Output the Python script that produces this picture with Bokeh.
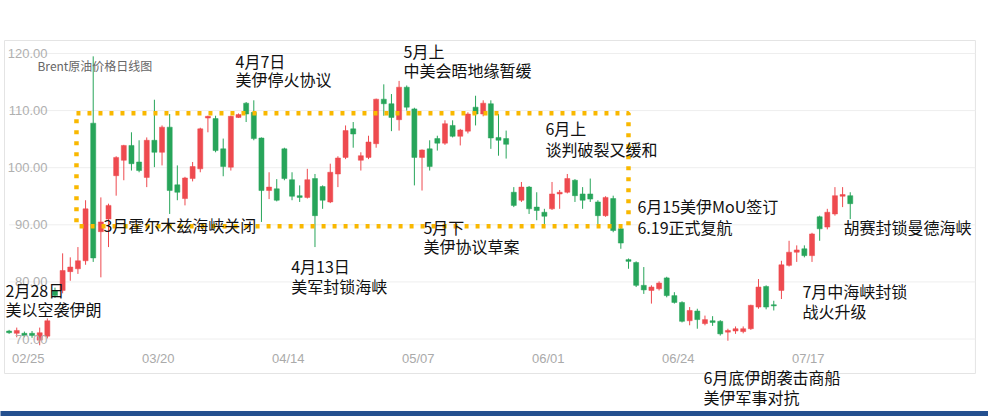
import pandas as pd
from bokeh.plotting import figure
from bokeh.models import Range1d, FixedTicker, Label, ColumnDataSource, NumeralTickFormatter
from bokeh.embed import file_html
from bokeh.resources import INLINE

# ---------------- data ----------------
opens = [71.4, 71.0, 71.0, 71.0, 69.8, 70.5, 78.5, 78.5, 81.8, 82.3,
         83.7, 107.8, 88.8, 91.0, 98.6, 101.3, 103.9, 101.0, 98.3, 104.8,
         102.7, 107.1, 97.0, 94.6, 98.1, 99.8, 108.7, 108.6, 103.3, 100.1,
         108.8, 111.3, 109.7, 105.2, 96.0, 96.3, 103.3, 97.9, 95.1, 94.8,
         98.1, 96.7, 94.0, 98.9, 101.8, 106.8, 101.3, 101.8, 104.2, 112.0,
         111.2, 108.4, 114.1, 110.3, 101.8, 103.3, 105.1, 104.3, 107.4, 105.5,
         106.4, 110.6, 109.4, 111.2, 105.3, 105.1, 95.7, 94.3, 96.6, 93.1,
         92.2, 92.8, 95.4, 95.7, 97.8, 95.4, 95.4, 94.0, 91.6, 94.6,
         89.3, 83.9, 83.4, 79.4, 78.5, 78.8, 80.7, 77.6, 76.4, 73.2,
         74.9, 72.7, 73.2, 73.1, 71.2, 71.4, 71.3, 71.8, 75.6, 79.2,
         76.0, 78.5, 82.9, 85.2, 85.8, 84.6, 91.4, 89.6, 91.9, 95.0,
         95.1]
highs = [71.6, 72.0, 71.3, 71.4, 72.0, 73.6, 79.0, 85.0, 84.3, 86.1,
         94.3, 119.5, 94.8, 93.7, 102.0, 104.0, 106.2, 104.8, 105.3, 111.9,
         107.4, 109.4, 100.4, 98.4, 101.0, 107.0, 109.1, 109.1, 105.1, 109.1,
         109.5, 111.5, 111.8, 105.3, 99.2, 98.0, 103.5, 99.2, 96.9, 99.8,
         98.9, 96.9, 100.7, 102.0, 107.4, 108.0, 102.7, 105.6, 112.1, 114.6,
         112.9, 115.2, 114.4, 110.5, 103.2, 104.8, 105.6, 108.3, 108.3, 106.8,
         109.7, 112.6, 111.8, 111.8, 109.4, 106.5, 96.6, 97.5, 96.8, 95.7,
         92.8, 97.5, 96.1, 98.9, 98.0, 96.6, 98.1, 94.3, 95.0, 95.1,
         89.6, 84.1, 83.6, 82.6, 79.4, 80.1, 80.9, 78.2, 76.6, 75.6,
         75.3, 74.1, 74.0, 73.3, 71.8, 72.2, 72.2, 76.0, 80.5, 79.4,
         76.7, 83.7, 87.2, 86.4, 86.4, 88.6, 91.6, 92.8, 96.6, 96.6,
         95.7]
lows = [70.9, 70.3, 70.3, 70.2, 68.9, 70.1, 77.2, 78.0, 80.2, 81.4,
        83.0, 83.5, 80.8, 86.1, 95.1, 97.8, 99.5, 99.2, 96.6, 100.1,
        100.4, 91.9, 94.3, 93.4, 97.6, 99.2, 106.2, 102.7, 98.5, 99.5,
        108.7, 108.0, 104.8, 90.5, 94.5, 94.1, 97.8, 94.3, 94.0, 94.6,
        86.1, 92.8, 93.8, 96.6, 101.5, 103.5, 99.5, 101.5, 103.5, 109.1,
        106.4, 106.5, 110.0, 96.9, 96.0, 99.5, 103.0, 104.0, 105.3, 103.9,
        106.0, 107.4, 109.0, 103.3, 102.1, 101.6, 93.1, 94.0, 91.9, 90.8,
        89.9, 92.6, 92.8, 95.5, 94.0, 92.8, 94.0, 89.9, 91.4, 88.7,
        85.8, 82.3, 79.1, 77.9, 76.2, 78.5, 77.3, 76.2, 72.9, 72.4,
        71.8, 72.4, 72.3, 70.6, 69.7, 70.9, 71.0, 71.6, 75.3, 75.2,
        75.0, 77.0, 82.7, 83.5, 84.3, 83.5, 87.2, 89.2, 91.6, 93.1,
        91.0]
closes = [71.1, 71.5, 70.6, 70.6, 71.1, 73.2, 77.6, 82.0, 82.6, 83.7,
          92.8, 84.2, 90.5, 93.4, 101.8, 103.9, 100.7, 99.5, 104.8, 102.7,
          107.1, 96.0, 95.7, 98.2, 100.2, 106.8, 109.0, 103.0, 100.2, 109.0,
          109.3, 109.4, 105.1, 96.0, 96.6, 94.3, 98.1, 95.0, 94.8, 97.9,
          91.6, 94.3, 99.2, 101.7, 106.5, 105.9, 102.1, 104.5, 112.0, 111.2,
          108.8, 114.1, 110.6, 101.8, 103.1, 100.2, 104.3, 107.7, 105.5, 106.6,
          109.4, 109.4, 111.3, 105.2, 104.8, 104.1, 93.4, 96.6, 92.8, 92.5,
          91.5, 95.4, 95.7, 98.1, 95.1, 94.3, 94.5, 91.6, 94.8, 89.0,
          86.8, 83.6, 79.4, 78.6, 79.1, 79.8, 77.6, 76.4, 73.1, 75.0,
          73.4, 73.4, 72.9, 70.9, 71.5, 71.8, 71.8, 75.9, 79.1, 75.6,
          75.8, 83.0, 85.2, 85.6, 84.6, 88.4, 89.3, 92.2, 95.1, 95.3,
          93.7]

first_day = "2026-02-20"
tick_labels = ["02/25", "03/20", "04/14", "05/07", "06/01", "06/24", "07/17"]
y_ticks = [70, 80, 90, 100, 110, 120]

title_text = "Brent原油价格日线图"
# (text lines, x index, y price of each line)
notes = [
    (["2月28日", "美以空袭伊朗"], -0.47, [78.67, 75.34]),
    (["3月霍尔木兹海峡关闭"], 12.34, [89.88]),
    (["4月7日", "美伊停火协议"], 29.61, [118.77, 115.62]),
    (["4月13日", "美军封锁海峡"], 36.89, [82.70, 79.37]),
    (["5月上", "中美会晤地缘暂缓"], 51.58, [120.35, 117.03]),
    (["5月下", "美伊协议草案"], 54.19, [89.70, 86.37]),
    (["6月上", "谈判破裂又缓和"], 70.14, [106.87, 103.36]),
    (["6月15美伊MoU签订", "6.19正式复航"], 82.17, [93.38, 89.70]),
    (["胡赛封锁曼德海峡"], 109.11, [89.53]),
    (["7月中海峡封锁", "战火升级"], 103.75, [78.49, 74.82]),
    (["6月底伊朗袭击商船", "美伊军事对抗"], 90.81, [63.26, 59.93]),
]
range_box = dict(left=8.81, right=81.0, bottom=89.75, top=109.55)
panel_box = dict(left=-0.60, right=126.37, bottom=63.96, top=122.28)
footer_band = dict(left=-1.2, right=128.2, bottom=56.3, top=57.4)

# ---------------- build ----------------
n = len(opens)
dates = [d.strftime("%m/%d") for d in pd.bdate_range(first_day, periods=n)]
idx = list(range(n))
up = [c >= o for o, c in zip(opens, closes)]
RED, GREEN = "#ee4a4f", "#27a55a"
colors = [RED if u else GREEN for u in up]
src = ColumnDataSource(dict(
    x=idx, open=opens, close=closes, high=highs, low=lows,
    top=[max(o, c) for o, c in zip(opens, closes)],
    bottom=[min(o, c) for o, c in zip(opens, closes)],
    color=colors, date=dates))

p = figure(width=988, height=416, output_backend="svg", toolbar_location=None,
           x_range=Range1d(-1.125, 128.08), y_range=Range1d(56.43, 129.28),
           min_border_left=0, min_border_right=0, min_border_top=0, min_border_bottom=0)
p.background_fill_color = "white"
p.border_fill_color = "white"
p.outline_line_color = None
p.xgrid.grid_line_color = None
p.ygrid.grid_line_color = None

# panel frame and horizontal grid lines
p.quad(left=[panel_box["left"]], right=[panel_box["right"]],
       bottom=[panel_box["bottom"]], top=[panel_box["top"]],
       fill_color=None, line_color="#e4e4e4", line_width=1)
p.segment(x0=[panel_box["left"] + 0.6] * len(y_ticks), x1=[panel_box["right"]] * len(y_ticks),
          y0=y_ticks, y1=y_ticks, line_color="#eeeeee", line_width=1)

# candles
p.segment(x0="x", y0="low", x1="x", y1="high", line_color="color", line_width=1, source=src)
p.vbar(x="x", width=0.66, top="top", bottom="bottom", fill_color="color",
       line_color="color", line_width=0.5, source=src)

# dotted range box
p.quad(left=[range_box["left"]], right=[range_box["right"]],
       bottom=[range_box["bottom"]], top=[range_box["top"]],
       fill_color=None, line_color="#f9b800", line_width=4.5, line_dash="4 7")

# screenshot footer band
p.quad(left=[footer_band["left"]], right=[footer_band["right"]],
       bottom=[footer_band["bottom"]], top=[footer_band["top"]],
       fill_color="#24508f", line_color=None)

# axes (labels drawn inside the frame)
tick_pos = [dates.index(t) - 0.5 for t in tick_labels]
p.xaxis.ticker = FixedTicker(ticks=tick_pos)
p.xaxis.major_label_overrides = {tp: t for tp, t in zip(tick_pos, tick_labels)}
p.xaxis.axis_line_color = None
p.xaxis.major_tick_line_color = None
p.xaxis.minor_tick_line_color = None
p.xaxis.major_tick_out = 0
p.xaxis.major_tick_in = 0
p.xaxis.major_label_standoff = -66
p.xaxis.major_label_text_font = "Liberation Sans"
p.xaxis.major_label_text_font_size = "13px"
p.xaxis.major_label_text_color = "#aaaaaa"

p.yaxis.ticker = FixedTicker(ticks=y_ticks)
p.yaxis.formatter = NumeralTickFormatter(format="0.00")
p.yaxis.axis_line_color = None
p.yaxis.major_tick_line_color = None
p.yaxis.minor_tick_line_color = None
p.yaxis.major_tick_out = 0
p.yaxis.major_tick_in = 0
p.yaxis.major_label_standoff = -47
p.yaxis.major_label_text_font = "Liberation Sans"
p.yaxis.major_label_text_font_size = "13px"
p.yaxis.major_label_text_color = "#b0b0b0"

p.add_layout(Label(x=3.71, y=117.9, text=title_text, text_align="left", text_baseline="middle",
                   text_font="Noto Sans CJK SC", text_font_size="12px", text_color="#666666"))

for lines, nx, ys in notes:
    for t, ny in zip(lines, ys):
        p.add_layout(Label(x=nx, y=ny, text=t, text_align="left", text_baseline="middle",
                           text_font="Noto Sans CJK SC", text_font_size="16px",
                           text_color="#111111"))

open("out.html", "w").write(file_html(p, INLINE))
